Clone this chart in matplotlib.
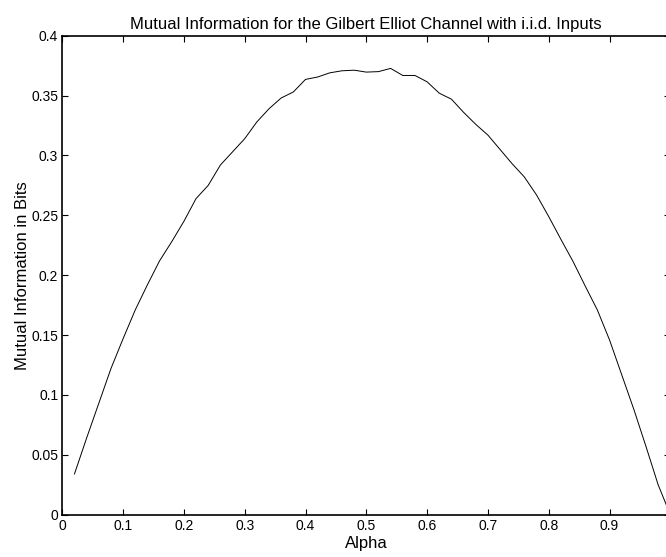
import numpy as np
from matplotlib import pyplot as plt

plt.rcParams['font.family'] = ['Liberation Sans', 'DejaVu Sans']

# alpha values (step 0.02) and mutual information
alpha = [0.02, 0.04, 0.06, 0.08, 0.10, 0.12, 0.14, 0.16, 0.18, 0.20,
         0.22, 0.24, 0.26, 0.28, 0.30, 0.32, 0.34, 0.36, 0.38, 0.40,
         0.42, 0.44, 0.46, 0.48, 0.50, 0.52, 0.54, 0.56, 0.58, 0.60,
         0.62, 0.64, 0.66, 0.68, 0.70, 0.72, 0.74, 0.76, 0.78, 0.80,
         0.82, 0.84, 0.86, 0.88, 0.90, 0.92, 0.94, 0.96, 0.98, 1.00]
mutual_info = [0.034, 0.064, 0.093, 0.122, 0.147, 0.171, 0.192, 0.212, 0.228, 0.245,
               0.264, 0.275, 0.292, 0.303, 0.314, 0.328, 0.339, 0.348, 0.353, 0.3635,
               0.3655, 0.369, 0.3707, 0.3712, 0.3696, 0.370, 0.3727, 0.3668, 0.3668, 0.3615,
               0.352, 0.347, 0.336, 0.326, 0.317, 0.305, 0.293, 0.282, 0.267, 0.249,
               0.230, 0.2115, 0.191, 0.171, 0.146, 0.117, 0.088, 0.057, 0.025, 0.0]

xticks = [0, 0.1, 0.2, 0.3, 0.4, 0.5, 0.6, 0.7, 0.8, 0.9]
xticklabels = ['0', '0.1', '0.2', '0.3', '0.4', '0.5', '0.6', '0.7', '0.8', '0.9']
yticks = [0, 0.05, 0.1, 0.15, 0.2, 0.25, 0.3, 0.35, 0.4]
yticklabels = ['0', '0.05', '0.1', '0.15', '0.2', '0.25', '0.3', '0.35', '0.4']

fig = plt.figure(figsize=(6.66, 5.57), dpi=100)
# axes run past the right edge of the picture, like the original export
ax = fig.add_axes([62.3 / 666, 42.3 / 557, 608 / 666, 479 / 557])
ax.plot(alpha, mutual_info, color='black', linewidth=0.7)

ax.set_xlim(0, 1)
ax.set_ylim(0, 0.4)
ax.set_xticks(xticks)
ax.set_xticklabels(xticklabels)
ax.set_yticks(yticks)
ax.set_yticklabels(yticklabels)
ax.tick_params(direction='in', length=4, width=0.8, top=True, right=True,
               labelsize=10, pad=3)
for s in ax.spines.values():
    s.set_linewidth(1.2)

ax.set_title('Mutual Information for the Gilbert Elliot Channel with i.i.d. Inputs',
             fontsize=12, pad=5)
ax.set_xlabel('Alpha', fontsize=12, labelpad=2)
ax.set_ylabel('Mutual Information in Bits', fontsize=12, labelpad=1)

plt.savefig("out.png", dpi=100)
